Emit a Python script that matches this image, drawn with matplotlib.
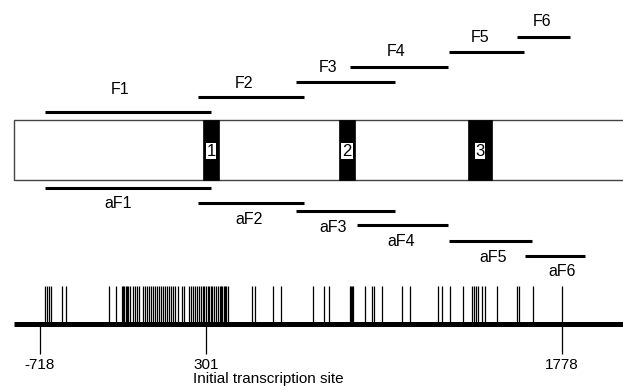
import matplotlib.pyplot as plt
from matplotlib.patches import Rectangle

plt.rcParams['font.family'] = ['Liberation Sans', 'DejaVu Sans']

# drawing units: picture pixels, y grows downward
fwd_names = ['F1', 'F2', 'F3', 'F4', 'F5', 'F6']
fwd_start = [45, 198, 296, 350, 449, 517]
fwd_end = [211, 304, 395, 448, 524, 570]
fwd_y = [112, 97, 82, 67, 52, 37]
fwd_lab_x = [120, 244, 328, 396, 480, 542]
fwd_lab_y = [89, 83, 68, 52, 37, 22]

rev_names = ['aF1', 'aF2', 'aF3', 'aF4', 'aF5', 'aF6']
rev_start = [45, 198, 296, 357, 449, 525]
rev_end = [211, 304, 395, 448, 532, 585]
rev_y = [188, 203, 211, 225, 241, 256]
rev_lab_x = [118, 249, 333, 401, 493, 562]
rev_lab_y = [204, 219, 227, 242, 257, 272]

exon_names = ['1', '2', '3']
exon_start = [203, 339, 468]
exon_end = [219, 355, 492]

site_labels = ['-718', '301', '1778']
site_x = [40, 206, 562]

# variant positions along the promoter line
variants = [45, 47, 49, 51, 62, 66, 109, 116,
            122, 123, 124, 126, 127, 128, 130, 133, 135, 137, 139, 143, 145,
            147, 149, 151, 153, 155, 157, 159, 161, 163, 165, 167, 169, 171,
            173, 175, 178, 182, 184, 189, 191, 193, 195, 197, 199, 201, 203,
            204, 206, 208, 209, 211, 212, 214, 216, 218, 220, 221, 222, 224,
            225, 226, 228,
            252, 255, 273, 281, 313, 324, 329, 350, 351, 352, 353,
            365, 372, 374, 382, 402, 410, 438, 442, 450, 463,
            472, 474, 476, 478, 482, 485, 497, 517, 519, 533, 562]

fig = plt.figure(figsize=(6.23, 3.87), dpi=100)
ax = fig.add_axes([0, 0, 1, 1])
ax.set_xlim(0, 623)
ax.set_ylim(387, 0)
ax.axis('off')

# gene box
ax.add_patch(Rectangle((14, 120), 640, 60, facecolor='white',
                       edgecolor='#444444', linewidth=1.0))
for s, e, name in zip(exon_start, exon_end, exon_names):
    ax.add_patch(Rectangle((s, 120), e - s, 60, facecolor='black',
                           edgecolor='black', linewidth=0.5))
    ax.text((s + e) / 2, 151, name, ha='center', va='center', fontsize=12,
            bbox=dict(facecolor='white', edgecolor='none', pad=0.6))

# fragments
for s, e, y in zip(fwd_start, fwd_end, fwd_y):
    ax.plot([s, e], [y, y], color='black', linewidth=2.2, solid_capstyle='butt')
for name, x, y in zip(fwd_names, fwd_lab_x, fwd_lab_y):
    ax.text(x, y, name, ha='center', va='center', fontsize=11.5)
for s, e, y in zip(rev_start, rev_end, rev_y):
    ax.plot([s, e], [y, y], color='black', linewidth=2.2, solid_capstyle='butt')
for name, x, y in zip(rev_names, rev_lab_x, rev_lab_y):
    ax.text(x, y, name, ha='center', va='center', fontsize=11.5)

# variants and baseline
ax.vlines(variants, 286, 324, color='black', linewidth=0.9)
ax.plot([14, 623], [324, 324], color='black', linewidth=3.6, solid_capstyle='butt')
ax.vlines(site_x, 324, 354, color='black', linewidth=0.9)
for lab, x in zip(site_labels, site_x):
    ax.text(x, 365, lab, ha='center', va='center', fontsize=11)
ax.text(193, 379, 'Initial transcription site', ha='left', va='center', fontsize=11)

fig.savefig('out.png', dpi=100)
